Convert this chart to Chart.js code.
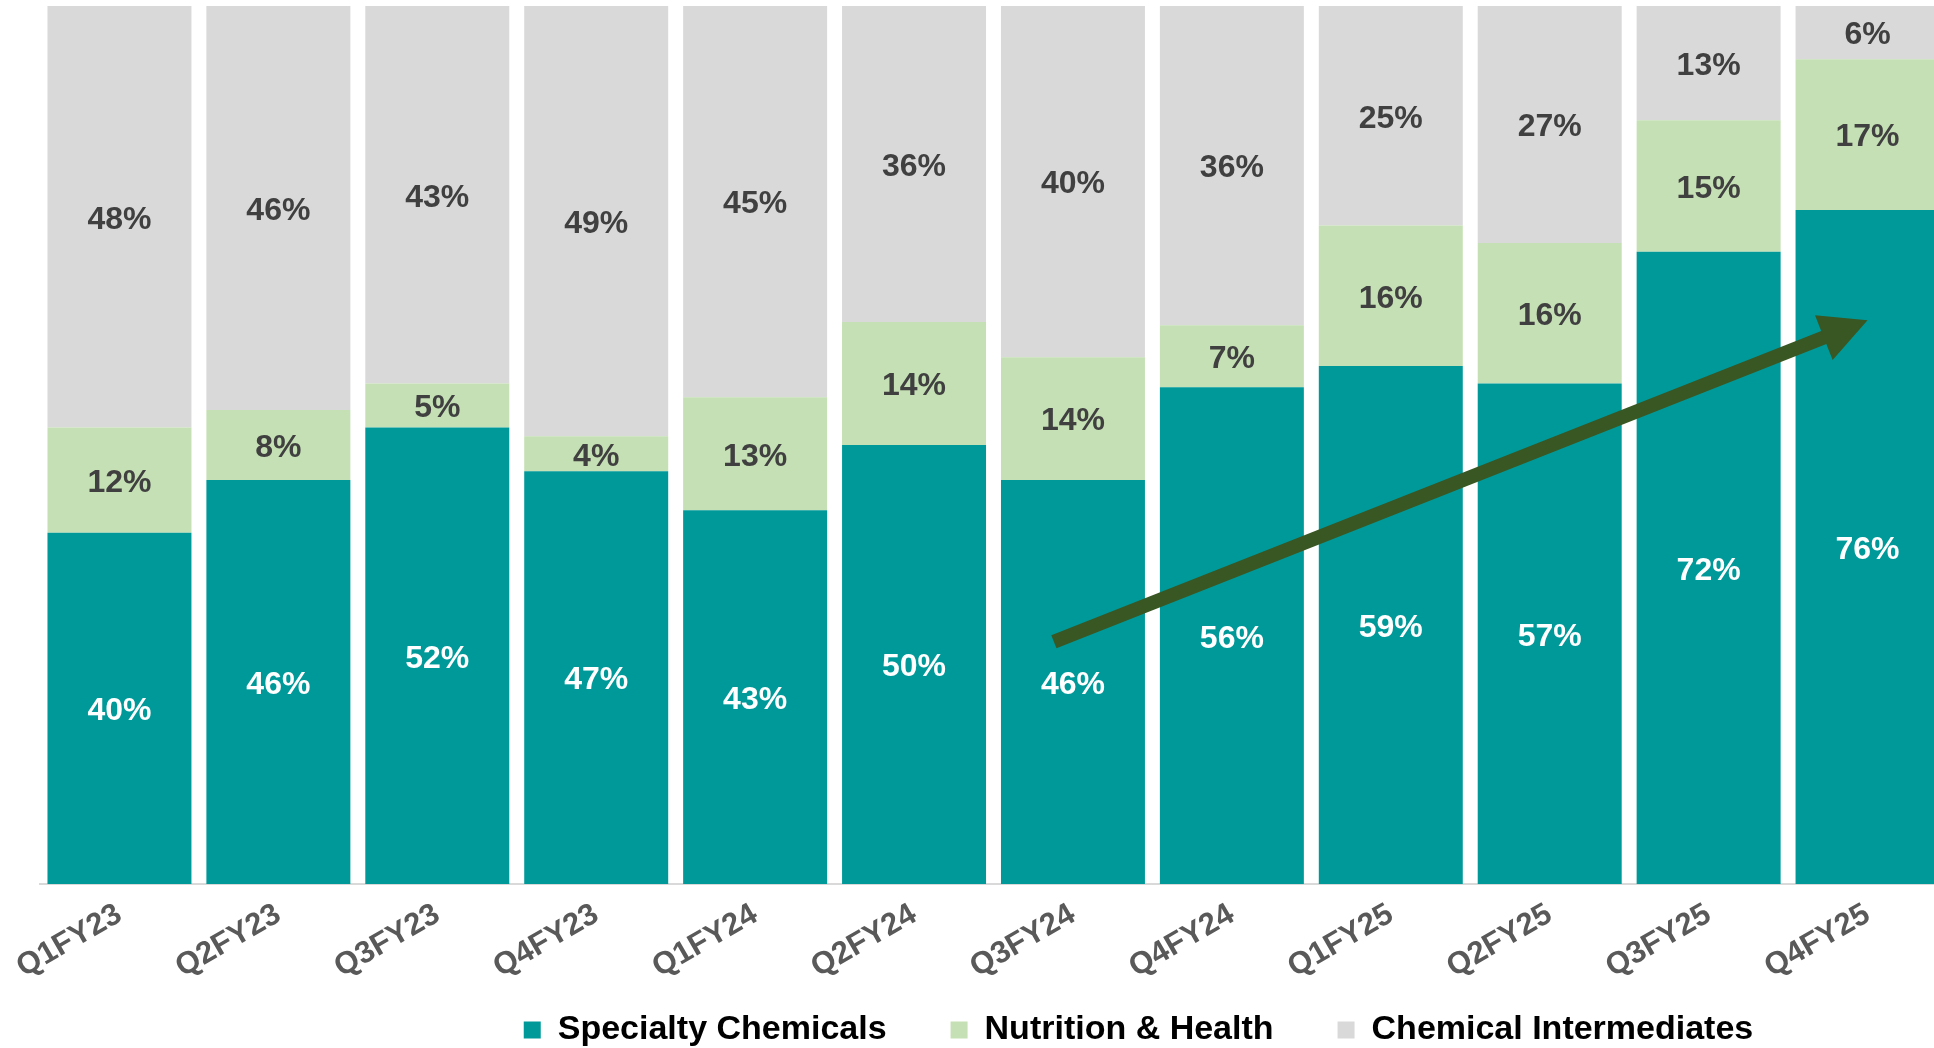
<!DOCTYPE html>
<html>
<head>
<meta charset="utf-8">
<script src="https://cdn.jsdelivr.net/npm/chart.js@4"></script>
<style>
  html, body { margin: 0; padding: 0; background: #fff; overflow: hidden; }
  #chart { display: block; }
</style>
</head>
<body>
<canvas id="chart" width="1947" height="1048"></canvas>
<script>
const quarters = ["Q1FY23", "Q2FY23", "Q3FY23", "Q4FY23", "Q1FY24", "Q2FY24", "Q3FY24", "Q4FY24", "Q1FY25", "Q2FY25", "Q3FY25", "Q4FY25"];
const specialty = [40, 46, 52, 47, 43, 50, 46, 56, 59, 57, 72, 76];
const nutrition = [12, 8, 5, 4, 13, 14, 14, 7, 16, 16, 15, 17];
const intermediates = [48, 46, 43, 49, 45, 36, 40, 36, 25, 27, 13, 6];
const seriesNames = ["Specialty Chemicals", "Nutrition & Health", "Chemical Intermediates"];
const seriesColors = ["#009999", "#C5E0B4", "#D9D9D9"];
const labelColors = ["#FFFFFF", "#404040", "#404040"];
// trend arrow, in (category index, percent) space
const trendStart = [5.88, 27.6];
const trendEnd = [11, 64.2];

const FONT = '"Liberation Sans", Arial, sans-serif';

// each column is shown as a 100% stack
const raw = [specialty, nutrition, intermediates];
const totals = quarters.map((_, i) => raw.reduce((s, arr) => s + arr[i], 0));
const shares = raw.map(arr => arr.map((v, i) => v / totals[i] * 100));

const segmentLabels = {
  id: "segmentLabels",
  afterDatasetsDraw(chart) {
    const ctx = chart.ctx;
    ctx.save();
    ctx.font = `bold 32px ${FONT}`;
    ctx.textAlign = "center";
    ctx.textBaseline = "middle";
    chart.data.datasets.forEach((ds, di) => {
      ctx.fillStyle = labelColors[di];
      chart.getDatasetMeta(di).data.forEach((bar, i) => {
        ctx.fillText(raw[di][i] + "%", bar.x, (bar.y + bar.base) / 2 + 3);
      });
    });
    ctx.restore();
  }
};

const trendArrow = {
  id: "trendArrow",
  afterDraw(chart) {
    const { ctx, scales: { x, y } } = chart;
    const x0 = x.getPixelForValue(trendStart[0]), y0 = y.getPixelForValue(trendStart[1]);
    const x1 = x.getPixelForValue(trendEnd[0]), y1 = y.getPixelForValue(trendEnd[1]);
    const ang = Math.atan2(y1 - y0, x1 - x0);
    const cos = Math.cos(ang), sin = Math.sin(ang);
    const headLen = 47, headHalf = 24;
    const bx = x1 - headLen * cos, by = y1 - headLen * sin;
    ctx.save();
    ctx.strokeStyle = "#385723";
    ctx.fillStyle = "#385723";
    ctx.lineWidth = 14;
    ctx.beginPath();
    ctx.moveTo(x0, y0);
    ctx.lineTo(bx + 2 * cos, by + 2 * sin);
    ctx.stroke();
    ctx.beginPath();
    ctx.moveTo(x1, y1);
    ctx.lineTo(bx - headHalf * sin, by + headHalf * cos);
    ctx.lineTo(bx + headHalf * sin, by - headHalf * cos);
    ctx.closePath();
    ctx.fill();
    ctx.restore();
  }
};

// legend sits right of centre and close to the bottom edge in the original;
// its box is stretched to the canvas bottom so the legend's clip keeps the text
const legendNudge = {
  id: "legendNudge",
  afterLayout(chart) {
    const lg = chart.legend;
    lg.left += 145; lg.right += 145;
    lg.top -= 49;
    lg.bottom = chart.height;
  }
};

new Chart(document.getElementById("chart"), {
  type: "bar",
  data: {
    labels: quarters,
    datasets: seriesNames.map((name, i) => ({
      label: name,
      data: shares[i],
      backgroundColor: seriesColors[i],
      borderWidth: 0,
      barPercentage: 0.906,
      categoryPercentage: 1
    }))
  },
  options: {
    responsive: false,
    animation: false,
    devicePixelRatio: 1,
    layout: { padding: { top: 6, left: 40, right: 0, bottom: 0 } },
    plugins: {
      tooltip: { enabled: false },
      legend: {
        position: "bottom",
        maxHeight: 50,
        labels: {
          boxWidth: 17,
          boxHeight: 17,
          padding: 64,
          color: "#000000",
          font: { family: FONT, size: 34, weight: "bold" }
        }
      }
    },
    scales: {
      x: {
        stacked: true,
        grid: { display: false, drawTicks: false },
        border: { color: "#D9D9D9", width: 2 },
        ticks: {
          color: "#595959",
          font: { family: FONT, size: 31, weight: "bold" },
          minRotation: 30,
          maxRotation: 30,
          autoSkip: false,
          padding: 12
        },
        afterFit(scale) { scale.height = 114; }
      },
      y: { stacked: true, display: false, min: 0, max: 100 }
    }
  },
  plugins: [segmentLabels, trendArrow, legendNudge]
});
</script>
</body>
</html>
